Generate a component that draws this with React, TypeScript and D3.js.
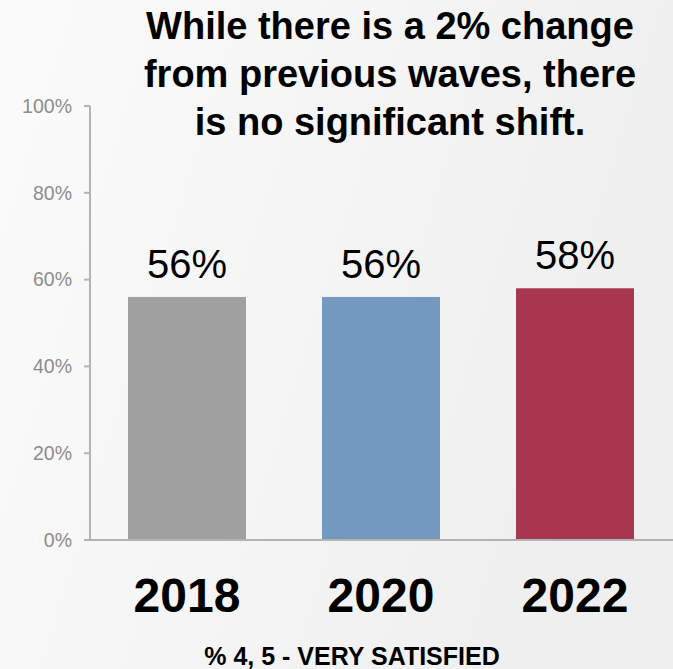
import React from "react";
import * as d3 from "d3";

const categories = ["2018", "2020", "2022"];
const values = [56, 56, 58];
const barColors = ["#a0a0a0", "#7399bf", "#a8364f"];
const yTicks = [0, 20, 40, 60, 80, 100];
const titleLines = ["While there is a 2% change", "from previous waves, there", "is no significant shift."];
const subtitle = "% 4, 5 - VERY SATISFIED";

const W = 673;
const H = 669;
const FONT = "'Liberation Sans', Arial, sans-serif";

export default function App() {
  const x = d3.scaleBand<string>().domain(categories).range([90, 672]).paddingInner(0.392).paddingOuter(0.196);
  const y = d3.scaleLinear().domain([0, 100]).range([540, 106]);
  return (
    <svg width={W} height={H} style={{ position: "absolute", left: 0, top: 0 }} fontFamily={FONT}>
      <defs>
        <linearGradient id="bg" x1="0" y1="0" x2="1" y2="0.3">
          <stop offset="0" stopColor="#fbfbfb" />
          <stop offset="1" stopColor="#efefef" />
        </linearGradient>
      </defs>
      <rect x={0} y={0} width={W} height={H} fill="url(#bg)" />
      {titleLines.map((t, i) => (
        <text key={i} x={390} y={39 + i * 48} textAnchor="middle" fontSize={38} fontWeight="bold" fill="#000">
          {t}
        </text>
      ))}
      {/* y axis */}
      <line x1={90} x2={90} y1={y(100)} y2={y(0)} stroke="#b3b3b3" strokeWidth={2} />
      {yTicks.map((t) => (
        <g key={t}>
          <line x1={84} x2={90} y1={y(t)} y2={y(t)} stroke="#b3b3b3" strokeWidth={2} />
          <text x={72} y={y(t)} dy="0.35em" textAnchor="end" fontSize={19.5} fill="#8c8c8c">
            {t}%
          </text>
        </g>
      ))}
      {categories.map((c, i) => (
        <g key={c}>
          <rect x={x(c)} y={y(values[i])} width={x.bandwidth()} height={y(0) - y(values[i])} fill={barColors[i]} />
          <text x={(x(c) as number) + x.bandwidth() / 2} y={y(values[i]) - 19} textAnchor="middle" fontSize={40} fill="#000">
            {values[i]}%
          </text>
          <text x={(x(c) as number) + x.bandwidth() / 2} y={612} textAnchor="middle" fontSize={48} fontWeight="bold" fill="#000">
            {c}
          </text>
        </g>
      ))}
      <line x1={84} x2={W} y1={y(0)} y2={y(0)} stroke="#b3b3b3" strokeWidth={2} />
      <text x={352} y={665} textAnchor="middle" fontSize={25} fontWeight="bold" fill="#000">
        {subtitle}
      </text>
    </svg>
  );
}
